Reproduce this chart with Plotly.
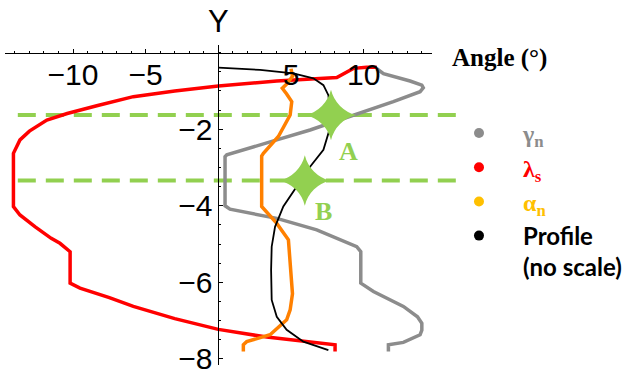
import plotly.graph_objects as go

# angle (deg) vs depth Y
red_angle = [10.9, 10.2, 9.29, 8.72, 8.15, 4.02, 0.0, -3.0, -5.85, -8.3, -10.4, -11.8, -13.0, -13.65,
             -14.1, -14.1, -13.65, -12.6, -11.5, -10.9, -10.2, -10.2, -9.52, -7.5, -5.85, -3.0, 0.0,
             3.33, 6.31, 8.03, 8.03]
red_depth = [-0.38, -0.38, -0.41, -0.54, -0.65, -0.74, -0.87, -1.0, -1.15, -1.38, -1.59, -1.76, -2.05, -2.28,
             -2.63, -4.02, -4.24, -4.55, -4.85, -4.98, -5.2, -6.02, -6.15, -6.4, -6.63, -6.95, -7.23,
             -7.43, -7.55, -7.63, -7.81]

grey_angle = [10.9, 11.36, 13.19, 14.0, 14.1, 13.88, 12.04, 9.29, 6.31, 4.02, 2.0, 0.58, 0.46, 0.46,
              0.8, 4.02, 6.77, 9.52, 9.8, 9.8, 10.67, 12.73, 13.7, 14.0, 14.0, 13.88, 12.73, 11.7, 11.7]
grey_depth = [-0.42, -0.55, -0.74, -0.85, -0.92, -1.02, -1.28, -1.63, -2.02, -2.28, -2.5, -2.67, -2.72, -4.0,
              -4.09, -4.33, -4.63, -5.07, -5.2, -6.02, -6.24, -6.63, -6.9, -7.07, -7.25, -7.37, -7.57, -7.63, -7.81]

orange_angle = [5.0, 5.1, 4.7, 4.4, 4.7, 5.05, 4.94, 4.5, 4.13, 3.1, 2.98, 2.98, 4.02, 4.82, 4.94,
                5.05, 5.1, 4.94, 4.7, 3.56, 1.95, 1.72, 1.72]
orange_depth = [-0.42, -0.62, -0.82, -0.93, -1.08, -1.28, -1.63, -1.95, -2.19, -2.63, -2.7, -4.02, -4.46, -4.89, -5.5,
                -6.0, -6.3, -6.72, -6.98, -7.37, -7.55, -7.63, -7.81]

profile_angle = [0.0, 2.87, 5.16, 6.54, 7.23, 7.57, 7.64, 7.7, 7.64, 7.23, 6.31, 5.39, 4.47, 3.9, 3.67,
                 3.63, 3.67, 4.02, 4.7, 5.85, 7.57]
profile_depth = [-0.39, -0.45, -0.54, -0.67, -0.85, -1.11, -1.37, -1.63, -2.02, -2.54, -2.98, -3.5, -4.02, -4.55, -5.07,
                 -5.68, -6.46, -6.9, -7.24, -7.55, -7.77]

star_labels = ["A", "B"]
star_angle = [7.75, 5.95]
star_depth = [-1.63, -3.34]

x_ticks = [-10, -5, 5, 10]
y_ticks = [-2, -4, -6, -8]

GREEN = "#92d050"
X_RANGE = [-14.68, 14.7]
Y_RANGE = [-8.16, 0.2]

fig = go.Figure()

curves = [
    (grey_angle, grey_depth, "#8c8c8c", 3.5),
    (red_angle, red_depth, "#ff0000", 3.5),
    (orange_angle, orange_depth, "#ff8000", 3.5),
    (profile_angle, profile_depth, "black", 1.8),
]
for xs, ys, col, w in curves:
    fig.add_trace(go.Scatter(x=xs, y=ys, mode="lines", line=dict(color=col, width=w),
                             showlegend=False, hoverinfo="skip"))

# dashed guides through the two points
for d in star_depth:
    fig.add_shape(type="line", xref="paper", yref="y", x0=0.03, x1=1.059, y0=d, y1=d,
                  line=dict(color=GREEN, width=4, dash="18px,10px"), layer="below")

fig.add_trace(go.Scatter(x=star_angle, y=star_depth, mode="markers",
                         marker=dict(symbol="star-diamond", size=36, color=GREEN),
                         showlegend=False, hoverinfo="skip"))
for lab, sx, sy, dx, dy in zip(star_labels, star_angle, star_depth, [1.2, 1.3], [-0.95, -0.8]):
    fig.add_annotation(x=sx + dx, y=sy + dy, text="<b>%s</b>" % lab, showarrow=False,
                       font=dict(family="Liberation Serif", size=26, color=GREEN))

# legend entries (dots)
legend_items = [
    ('<span style="font-family:Liberation Serif;color:#8c8c8c"><b>γ<sub>n</sub></b></span>', "#8c8c8c"),
    ('<span style="font-family:Liberation Serif;color:#ff0000"><b>λ<sub>s</sub></b></span>', "#ff0000"),
    ('<span style="font-family:Liberation Serif;color:#ffc000"><b>α<sub>n</sub></b></span>', "#ffc000"),
    ("<b>Profile</b><br><b>(no scale)</b>", "black"),
]
for name, col in legend_items:
    fig.add_trace(go.Scatter(x=[None], y=[None], mode="markers", name=name,
                             marker=dict(color=col, size=10)))

fig.add_annotation(x=0, y=1.072, xref="x", yref="paper", text="Y", showarrow=False,
                   font=dict(family="Liberation Sans", size=31, color="black"),
                   xanchor="center", yanchor="middle")
fig.add_annotation(x=1.159, y=0.959, xref="paper", yref="paper", text="<b>Angle (°)</b>",
                   showarrow=False, font=dict(family="Liberation Serif", size=25, color="black"),
                   xanchor="center", yanchor="middle")

axis_font = dict(family="Liberation Sans", size=30, color="black")
fig.update_layout(
    width=633, height=372,
    margin=dict(l=5, r=201, t=45, b=7, autoexpand=False),
    plot_bgcolor="white", paper_bgcolor="white",
    xaxis=dict(range=X_RANGE, tickvals=x_ticks, ticks="inside", ticklen=4, tickcolor="black",
               showline=True, linecolor="black", linewidth=1, showgrid=False, zeroline=False,
               anchor="free", position=(0 - Y_RANGE[0]) / (Y_RANGE[1] - Y_RANGE[0]), side="bottom",
               tickfont=axis_font, ticklabelstandoff=-5, automargin=False, ticklabeloverflow="allow",
               minor=dict(dtick=1, ticks="inside", ticklen=2, tickcolor="black", showgrid=False)),
    yaxis=dict(range=Y_RANGE, tickvals=y_ticks, ticks="inside", ticklen=4, tickcolor="black",
               showline=True, linecolor="black", linewidth=1, showgrid=False, zeroline=False,
               anchor="free", position=(0 - X_RANGE[0]) / (X_RANGE[1] - X_RANGE[0]), side="left",
               tickfont=axis_font, ticklabelstandoff=0, automargin=False, ticklabeloverflow="allow",
               minor=dict(dtick=0.5, ticks="inside", ticklen=2, tickcolor="black", showgrid=False)),
    legend=dict(x=1.007, y=0.794, xanchor="left", yanchor="top", font=dict(family="Lato", size=24, color="black"),
                itemwidth=78, valign="top", bgcolor="rgba(0,0,0,0)"),
)

fig.write_html("out.html", config={"displayModeBar": False},
               post_script="document.body.style.margin='0';")
